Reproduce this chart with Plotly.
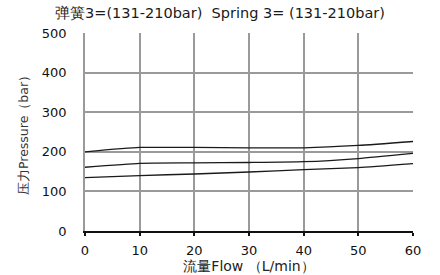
import plotly.graph_objects as go

flow = [0, 10, 20, 30, 40, 50, 60]
upper = [200, 211, 211, 210, 210, 216, 226]
middle = [161, 171, 172, 173, 175, 183, 196]
lower = [135, 140, 144, 149, 155, 160, 170]

x_ticks = [0, 10, 20, 30, 40, 50, 60]
y_ticks = [0, 100, 200, 300, 400, 500]

fig = go.Figure()
for ys in (upper, middle, lower):
    fig.add_trace(go.Scatter(x=flow, y=ys, mode="lines",
                             line=dict(color="#1a1a1a", width=1.3, shape="spline", smoothing=0.5),
                             showlegend=False, hoverinfo="skip"))

font_main = "DejaVu Sans, Verdana, sans-serif"
fig.update_layout(
    width=440, height=275,
    margin=dict(l=85, r=27, t=33, b=44),
    paper_bgcolor="white", plot_bgcolor="white",
    title=dict(text="弹簧3=(131-210bar)  Spring 3= (131-210bar)", x=0.5, xanchor="center", y=0.953, yanchor="middle",
               font=dict(family=font_main, size=14.5, color="#1a1a1a")),
    xaxis=dict(range=[0, 60], tickvals=x_ticks, showgrid=True, gridcolor="#9a9a9a", gridwidth=1.8,
               showline=True, linecolor="#111", linewidth=2, ticks="outside", ticklen=3, tickcolor="#111", tickwidth=1.5,
               zeroline=False, ticklabelstandoff=3, automargin=False,
               tickfont=dict(family=font_main, size=13, color="#111"),
               title=dict(text="流量Flow （L/min）", font=dict(family=font_main, size=14, color="#222"), standoff=0)),
    yaxis=dict(range=[0, 500], tickvals=y_ticks, showgrid=True, gridcolor="#9a9a9a", gridwidth=1.8,
               showline=True, linecolor="#9a9a9a", linewidth=1.8, zeroline=False, ticks="",
               ticklabelstandoff=14, automargin=False,
               tickfont=dict(family=font_main, size=13, color="#111"),
               title=dict(text="压力Pressure（bar）", font=dict(family=font_main, size=12.5, color="#333"), standoff=10)),
)
fig.write_html("out.html")
